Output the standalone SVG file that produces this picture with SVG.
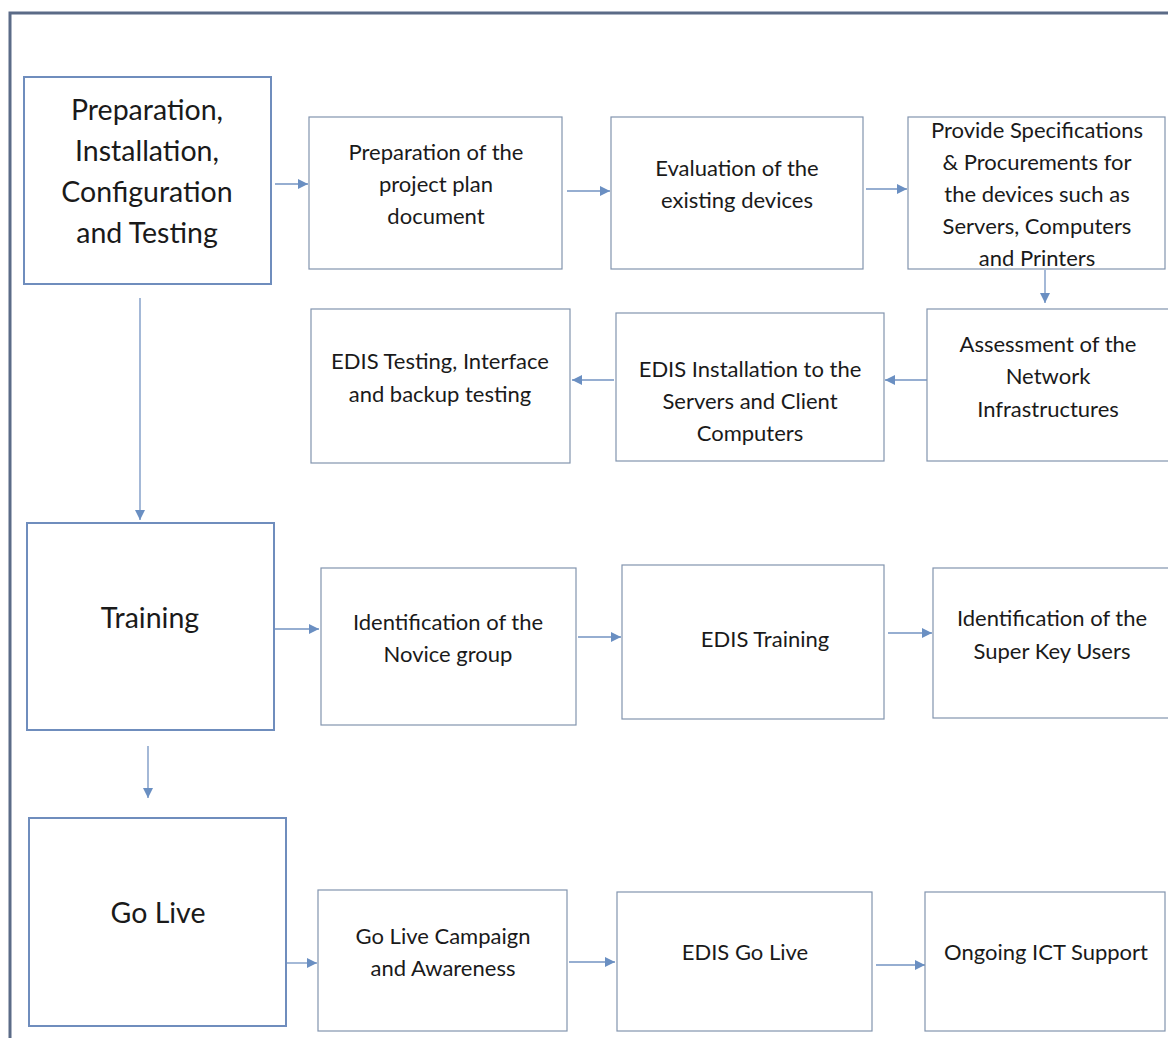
<svg xmlns="http://www.w3.org/2000/svg" width="1168" height="1038" viewBox="0 0 1168 1038">
<defs>
<style>
.main{fill:#fff;stroke:#6f8dbd;stroke-width:2}
.sub{fill:#fff;stroke:#8294ae;stroke-width:1.2}
.t{font-family:Lato,"Open Sans",sans-serif;fill:#1a1a1a;text-anchor:middle}
.big{font-size:28.5px}
.sm{font-size:22px}
.c{stroke:#7393c2;stroke-width:1.3;fill:none;marker-end:url(#ah)}
</style>
<marker id="ah" viewBox="0 0 10 10" refX="10" refY="5" markerWidth="10" markerHeight="10" markerUnits="userSpaceOnUse" orient="auto">
<path d="M0,0 L10,5 L0,10 z" fill="#6a8fc2"/>
</marker>
</defs>
<rect width="1168" height="1038" fill="#fff"/>
<path d="M10,1038 V13 H1168" fill="none" stroke="#5b6b87" stroke-width="3"/>

<g id="connectors">
<line class="c" x1="275" y1="184" x2="308" y2="184"/>
<line class="c" x1="567" y1="191" x2="610" y2="191"/>
<line class="c" x1="866" y1="189" x2="907" y2="189"/>
<line class="c" x1="1045" y1="270" x2="1045" y2="303"/>
<line class="c" x1="927" y1="380" x2="885" y2="380"/>
<line class="c" x1="614" y1="380" x2="572" y2="380"/>
<line class="c" x1="140" y1="298" x2="140" y2="520"/>
<line class="c" x1="275" y1="629" x2="319" y2="629"/>
<line class="c" x1="578" y1="637" x2="621" y2="637"/>
<line class="c" x1="888" y1="633" x2="932" y2="633"/>
<line class="c" x1="148" y1="746" x2="148" y2="798"/>
<line class="c" x1="287" y1="963" x2="317" y2="963"/>
<line class="c" x1="569" y1="962" x2="615" y2="962"/>
<line class="c" x1="876" y1="965" x2="925" y2="965"/>
</g>

<g id="phase1">
<rect class="main" x="24" y="77" width="247" height="207"/>
<text class="t big" x="147" y="120">Preparation,</text>
<text class="t big" x="147" y="161">Installation,</text>
<text class="t big" x="147" y="202">Configuration</text>
<text class="t big" x="147" y="243">and Testing</text>
</g>
<g id="project-plan">
<rect class="sub" x="309" y="117" width="253" height="152"/>
<text class="t sm" x="436" y="160">Preparation of the</text>
<text class="t sm" x="436" y="192">project plan</text>
<text class="t sm" x="436" y="224">document</text>
</g>
<g id="evaluation">
<rect class="sub" x="611" y="117" width="252" height="152"/>
<text class="t sm" x="737" y="176">Evaluation of the</text>
<text class="t sm" x="737" y="208">existing devices</text>
</g>
<g id="specifications">
<rect class="sub" x="908" y="117" width="257" height="152"/>
<text class="t sm" x="1037" y="138">Provide Specifications</text>
<text class="t sm" x="1037" y="170">&amp; Procurements for</text>
<text class="t sm" x="1037" y="202">the devices such as</text>
<text class="t sm" x="1037" y="234">Servers, Computers</text>
<text class="t sm" x="1037" y="266">and Printers</text>
</g>
<g id="assessment">
<rect class="sub" x="927" y="309" width="245" height="152"/>
<text class="t sm" x="1048" y="352">Assessment of the</text>
<text class="t sm" x="1048" y="384">Network</text>
<text class="t sm" x="1048" y="417">Infrastructures</text>
</g>
<g id="installation">
<rect class="sub" x="616" y="313" width="268" height="148"/>
<text class="t sm" x="750" y="377">EDIS Installation to the</text>
<text class="t sm" x="750" y="409">Servers and Client</text>
<text class="t sm" x="750" y="441">Computers</text>
</g>
<g id="testing">
<rect class="sub" x="311" y="309" width="259" height="154"/>
<text class="t sm" x="440" y="369">EDIS Testing, Interface</text>
<text class="t sm" x="440" y="402">and backup testing</text>
</g>

<g id="phase2">
<rect class="main" x="27" y="523" width="247" height="207"/>
<text class="t big" x="150" y="628">Training</text>
</g>
<g id="novice">
<rect class="sub" x="321" y="568" width="255" height="157"/>
<text class="t sm" x="448" y="630">Identification of the</text>
<text class="t sm" x="448" y="662">Novice group</text>
</g>
<g id="edis-training">
<rect class="sub" x="622" y="565" width="262" height="154"/>
<text class="t sm" x="765" y="647">EDIS Training</text>
</g>
<g id="super-users">
<rect class="sub" x="933" y="568" width="240" height="150"/>
<text class="t sm" x="1052" y="626">Identification of the</text>
<text class="t sm" x="1052" y="659">Super Key Users</text>
</g>

<g id="phase3">
<rect class="main" x="29" y="818" width="257" height="208"/>
<text class="t big" x="158" y="923">Go Live</text>
</g>
<g id="campaign">
<rect class="sub" x="318" y="890" width="249" height="141"/>
<text class="t sm" x="443" y="944">Go Live Campaign</text>
<text class="t sm" x="443" y="976">and Awareness</text>
</g>
<g id="go-live">
<rect class="sub" x="617" y="892" width="255" height="139"/>
<text class="t sm" x="745" y="960">EDIS Go Live</text>
</g>
<g id="support">
<rect class="sub" x="925" y="892" width="240" height="139"/>
<text class="t sm" x="1046" y="960">Ongoing ICT Support</text>
</g>
</svg>
